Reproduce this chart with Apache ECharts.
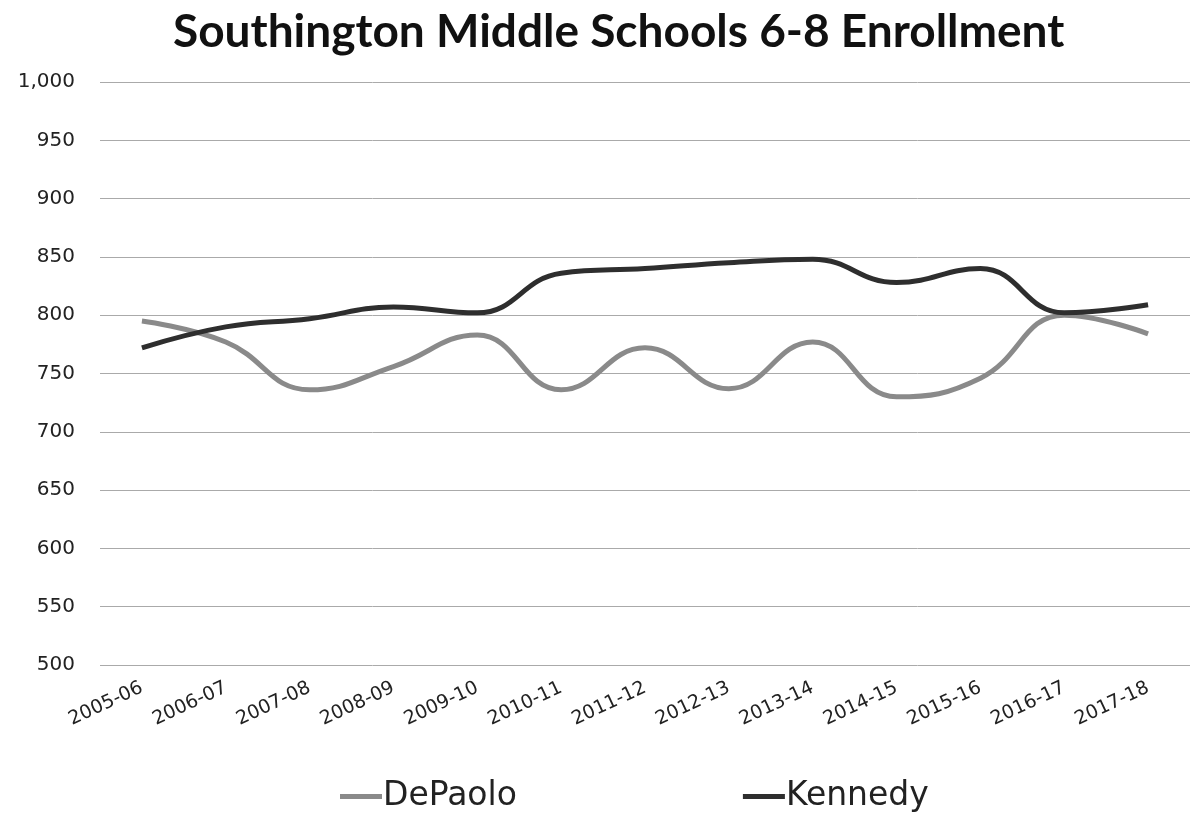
<!DOCTYPE html>
<html>
<head>
<meta charset="utf-8">
<script src="https://cdn.jsdelivr.net/npm/echarts@6/dist/echarts.min.js"></script>
<style>
html,body{margin:0;padding:0;background:#fff;}
#chart{width:1190px;height:835px;}
</style>
</head>
<body>
<div id="chart"></div>
<script>
const categories = ['2005-06','2006-07','2007-08','2008-09','2009-10','2010-11','2011-12','2012-13','2013-14','2014-15','2015-16','2016-17','2017-18'];
const dePaolo = [795, 777, 736, 756, 783, 736, 772, 737, 777, 730, 746, 800, 784];
const kennedy = [772, 790, 797, 807, 802, 836, 840, 845, 848, 828, 840, 802, 809];
const yTicks = { min: 500, max: 1000, interval: 50 };
const titleText = 'Southington Middle Schools 6-8 Enrollment';

const chart = echarts.init(document.getElementById('chart'));
chart.setOption({
  backgroundColor: '#fff',
  animation: false,
  title: {
    text: titleText,
    left: 168,
    top: 4,
    textStyle: { fontFamily: 'Lato', fontWeight: 'bold', fontSize: 46, color: '#111' }
  },
  grid: { left: 100, right: -8, top: 82, bottom: 170 },
  legend: {
    bottom: 17,
    left: 335,
    itemGap: 226,
    itemWidth: 42,
    itemHeight: 5,
    icon: 'rect',
    textStyle: { fontFamily: 'DejaVu Sans', fontSize: 33, color: '#222', padding: [0,0,0,-4] },
    data: ['DePaolo', 'Kennedy']
  },
  xAxis: {
    type: 'category',
    data: categories,
    boundaryGap: true,
    axisLine: { show: false },
    axisTick: { show: false },
    axisLabel: {
      rotate: 25,
      fontFamily: 'DejaVu Sans',
      fontSize: 19,
      color: '#222',
      margin: 22,
      interval: 0
    }
  },
  yAxis: {
    type: 'value',
    min: yTicks.min,
    max: yTicks.max,
    interval: yTicks.interval,
    axisLine: { show: false },
    axisTick: { show: false },
    axisLabel: {
      fontFamily: 'DejaVu Sans',
      fontSize: 20,
      color: '#222',
      margin: 25,
      formatter: v => v.toLocaleString('en-US')
    },
    splitLine: { lineStyle: { color: '#aaa', width: 1 } }
  },
  series: [
    {
      name: 'DePaolo',
      type: 'line',
      data: dePaolo,
      smooth: 0.45,
      showSymbol: false,
      symbol: 'none',
      lineStyle: { color: '#8a8a8a', width: 5 },
      itemStyle: { color: '#8a8a8a' }
    },
    {
      name: 'Kennedy',
      type: 'line',
      data: kennedy,
      smooth: 0.45,
      showSymbol: false,
      symbol: 'none',
      lineStyle: { color: '#2e2e2e', width: 5 },
      itemStyle: { color: '#2e2e2e' }
    }
  ]
});
</script>
</body>
</html>
